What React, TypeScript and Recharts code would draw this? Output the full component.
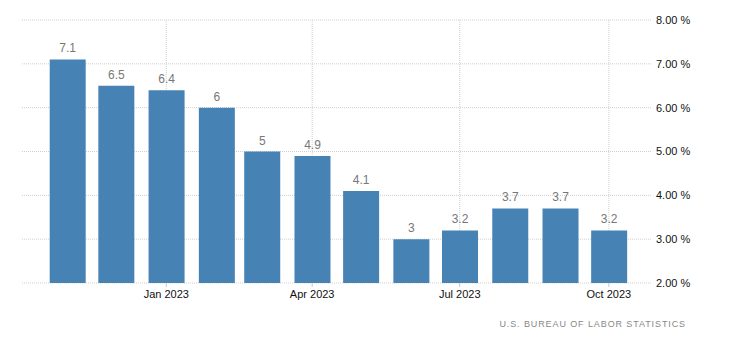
import {Bar, BarChart, CartesianGrid, LabelList, XAxis, YAxis} from "recharts";

const months = ["2022-11", "2022-12", "2023-01", "2023-02", "2023-03", "2023-04", "2023-05", "2023-06", "2023-07", "2023-08", "2023-09", "2023-10"];
const inflation = [7.1, 6.5, 6.4, 6, 5, 4.9, 4.1, 3, 3.2, 3.7, 3.7, 3.2];
const xTickMonths = ["2023-01", "2023-04", "2023-07", "2023-10"];
const yTicks = [2, 3, 4, 5, 6, 7, 8];
const monthNames = ["Jan", "Feb", "Mar", "Apr", "May", "Jun", "Jul", "Aug", "Sep", "Oct", "Nov", "Dec"];

const DAY = 24 * 3600 * 1000;
const toTime = (m: string) => Date.UTC(+m.slice(0, 4), +m.slice(5) - 1, 1);

const data = months.map((m, i) => ({t: toTime(m), value: inflation[i]}));
const xTicks = xTickMonths.map(toTime);
const xDomain = [data[0].t - 28 * DAY, data[data.length - 1].t + 26 * DAY];

const fmtMonth = (t: number) => {
    const d = new Date(t);
    return `${monthNames[d.getUTCMonth()]} ${d.getUTCFullYear()}`;
};

const font = "'Liberation Sans', Arial, sans-serif";

// only draw vertical grid lines at the month ticks, not at the plot edges
const verticalAtTicks = ({offset}: any) =>
    xTicks.map(t => offset.left + (t - xDomain[0]) / (xDomain[1] - xDomain[0]) * offset.width);

export default function App() {
    return (
        <div style={{position: "absolute", left: 0, top: 0, width: 730, height: 351, background: "#fff"}}>
            <BarChart
                width={730}
                height={351}
                data={data}
                margin={{top: 20, right: 0, bottom: 38, left: 22}}
            >
                <CartesianGrid
                    stroke="#cfcfcf"
                    strokeDasharray="1 1"
                    verticalCoordinatesGenerator={verticalAtTicks}
                />
                <XAxis
                    dataKey="t"
                    type="number"
                    domain={xDomain}
                    allowDataOverflow
                    ticks={xTicks}
                    tickFormatter={fmtMonth}
                    axisLine={false}
                    tickLine={{stroke: "#c8c8c8"}}
                    tickSize={4}
                    tickMargin={3}
                    height={30}
                    tick={{fill: "#111", fontSize: 11, fontFamily: font}}
                />
                <YAxis
                    orientation="right"
                    domain={[2, 8]}
                    ticks={yTicks}
                    allowDataOverflow
                    tickFormatter={(v: number) => `${v.toFixed(2)} %`}
                    axisLine={false}
                    tickLine={false}
                    tickSize={0}
                    tickMargin={5}
                    width={79}
                    tick={{fill: "#111", fontSize: 11, fontFamily: font, textAnchor: "start"}}
                />
                <Bar dataKey="value" fill="#4682b4" barSize={36} isAnimationActive={false}>
                    <LabelList
                        dataKey="value"
                        position="top"
                        offset={7}
                        style={{fill: "#777", fontSize: 12, fontFamily: font}}
                    />
                </Bar>
            </BarChart>
            <div
                style={{
                    position: "absolute",
                    right: 730 - 686,
                    top: 319,
                    fontSize: 9,
                    letterSpacing: 0.9,
                    color: "#888",
                    fontFamily: font,
                }}
            >
                U.S. BUREAU OF LABOR STATISTICS
            </div>
        </div>
    );
}
